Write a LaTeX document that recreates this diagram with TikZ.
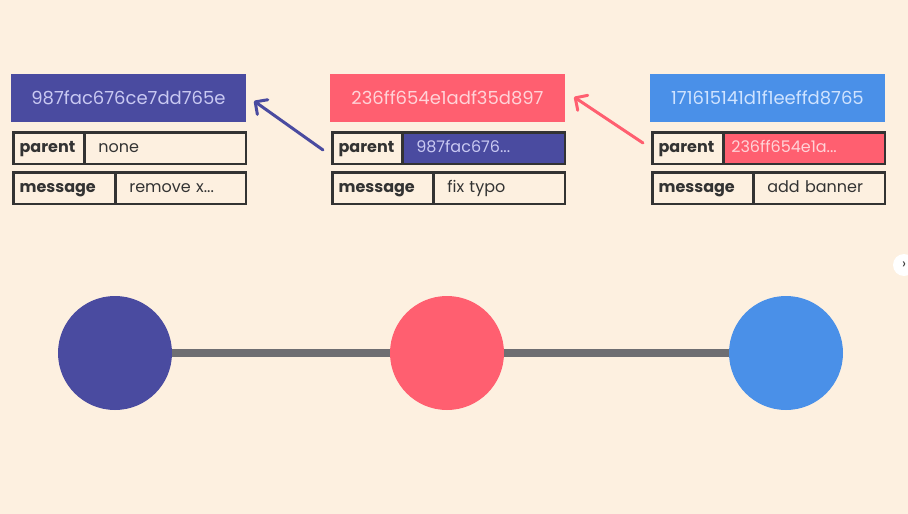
\documentclass[tikz,border=0pt]{standalone}
\usepackage{fontspec}
\setmainfont{Poppins}
\usetikzlibrary{arrows.meta}
\definecolor{bgc}{HTML}{FDF0E0}
\definecolor{indigoc}{HTML}{4A4BA0}
\definecolor{redc}{HTML}{FF5F70}
\definecolor{bluec}{HTML}{4A90E8}
\definecolor{inkc}{HTML}{333333}
\definecolor{linkc}{HTML}{6E6E72}
\definecolor{lavtxt}{HTML}{C9C9F2}
\definecolor{pinktxt}{HTML}{FFD3D8}
\definecolor{skytxt}{HTML}{CFE3FF}
\tikzset{
  hashbox/.style={minimum width=235, minimum height=48, inner sep=0, font=\fontsize{18}{18}\selectfont},
  cell/.style={draw=inkc, line width=2.6, minimum height=31.4, inner ysep=0, anchor=north west,
    text height=11, text depth=3.5},
  lbl/.style={cell, inner xsep=6, font=\bfseries\fontsize{16}{16}\selectfont, text=inkc, align=left},
  val/.style={cell, inner xsep=14, font=\fontsize{16}{16}\selectfont, text=inkc, align=left},
  ptr/.style={line width=3, line cap=round, -{Straight Barb[length=9, width=18, line width=3, round]}},
  commit/.style={circle, minimum size=114, inner sep=0},
}
\begin{document}
\begin{tikzpicture}[x=1pt, y=-1pt]
\fill[bgc] (0,0) rectangle (908,514);
\useasboundingbox (0,0) rectangle (908,514);

% commit 987fac6
\node[hashbox, fill=indigoc, text=lavtxt] (h1) at (128.5,98) {987fac676ce7dd765e};
\node[lbl, text width=58.7] (p1) at (12.3,131.3) {parent};
\node[val, text width=133.7] (pv1) at (83,131.3) {none};
\node[lbl, text width=89.7] (m1) at (12.3,171.3) {message};
\node[val, text width=102.7] (mv1) at (114,171.3) {remove x...};

% commit 236ff65
\node[hashbox, fill=redc, text=pinktxt] (h2) at (447.5,98) {236ff654e1adf35d897};
\node[lbl, text width=57.7] (p2) at (331.3,131.3) {parent};
\node[val, fill=indigoc, text=lavtxt, text width=134.7] (pv2) at (401,131.3) {987fac676...};
\node[lbl, text width=88.7] (m2) at (331.3,171.3) {message};
\node[val, text width=103.7] (mv2) at (432,171.3) {fix typo};

% commit 1716151
\node[hashbox, fill=bluec, text=skytxt] (h3) at (767.5,98) {171615141d1f1eeffd8765};
\node[lbl, text width=58.7] (p3) at (651.3,131.3) {parent};
\node[val, inner xsep=8, fill=redc, text=pinktxt, text width=145.7] (pv3) at (722,131.3) {236ff654e1a...};
\node[lbl, text width=88.7] (m3) at (651.3,171.3) {message};
\node[val, text width=103.7] (mv3) at (752,171.3) {add banner};

% parent pointers
\coordinate (a1s) at (323,150);
\coordinate (a1e) at (254,101);
\coordinate (a2s) at (643,143);
\coordinate (a2e) at (574,97);
\draw[ptr, indigoc] (a1s) -- (a1e);
\draw[ptr, redc] (a2s) -- (a2e);

% history line
\node[commit, fill=indigoc] (c1) at (115,353) {};
\node[commit, fill=redc] (c2) at (447,353) {};
\node[commit, fill=bluec] (c3) at (786,353) {};
\draw[linkc, line width=8] (c1.east) -- (c2.west);
\draw[linkc, line width=8] (c2.east) -- (c3.west);

% slide navigation button
\node[circle, fill=white, minimum size=22, inner sep=0, font=\fontsize{14}{14}\selectfont, text=inkc] (nav) at (904,265) {›};
\end{tikzpicture}
\end{document}
